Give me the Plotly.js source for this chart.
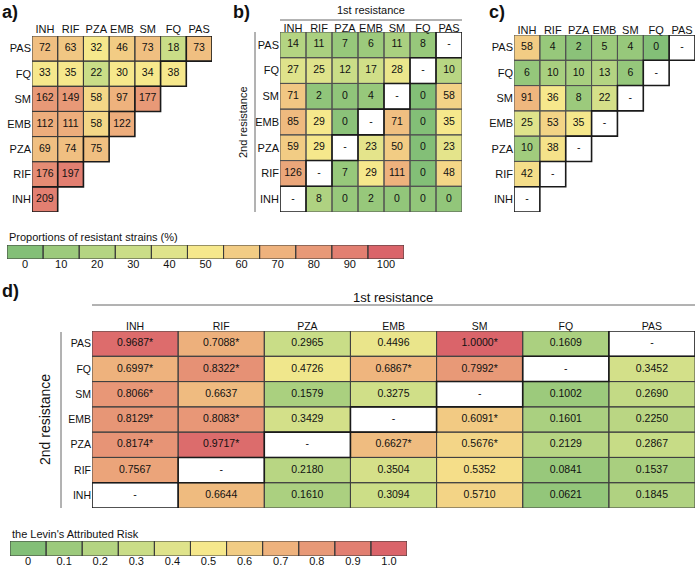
<!DOCTYPE html>
<html><head><meta charset="utf-8">
<script src="https://cdn.plot.ly/plotly-3.0.1.min.js"></script>
<style>body{margin:0;padding:0;background:#fff}#chart{width:696px;height:568px}</style>
</head><body><div id="chart"></div>
<script>
// ---------- DATA ----------
const drugs = ['INH','RIF','PZA','EMB','SM','FQ','PAS'];          // columns (1st resistance), bottom->top for rows
const rowsTopDown = ['PAS','FQ','SM','EMB','PZA','RIF','INH'];    // row order as printed (top to bottom)

// a) numbers of resistant strains (null = no cell)
const countsA = [
  [72, 63, 32, 46, 73, 18, 73],
  [33, 35, 22, 30, 34, 38, null],
  [162, 149, 58, 97, 177, null, null],
  [112, 111, 58, 122, null, null, null],
  [69, 74, 75, null, null, null, null],
  [176, 197, null, null, null, null, null],
  [209, null, null, null, null, null, null]
];
// a) proportion (%) shown by cell colour (read from picture)
const pctA = [
  [65, 62, 50, 60, 65, 30, 65],
  [50, 50, 30, 50, 50, 50, null],
  [80, 80, 56, 70, 80, null, null],
  [72, 72, 56, 72, null, null, null],
  [65, 65, 65, null, null, null, null],
  [85, 90, null, null, null, null, null],
  [90, null, null, null, null, null, null]
];

// b) counts, '-' = diagonal
const countsB = [
  [14, 11, 7, 6, 11, 8, '-'],
  [27, 25, 12, 17, 28, '-', 10],
  [71, 2, 0, 4, '-', 0, 58],
  [85, 29, 0, '-', 71, 0, 35],
  [59, 29, '-', 23, 50, 0, 23],
  [126, '-', 7, 29, 111, 0, 48],
  ['-', 8, 0, 2, 0, 0, 0]
];
const pctB = [
  [20, 16, 8, 10, 16, 8, null],
  [40, 40, 30, 33, 45, null, 22],
  [62, 5, 5, 8, null, 0, 58],
  [67, 50, 3, null, 65, 0, 50],
  [60, 50, null, 42, 60, 0, 42],
  [75, null, 8, 50, 70, 0, 56],
  [null, 18, 8, 8, 6, 6, 6]
];

// c) counts
const countsC = [
  [58, 4, 2, 5, 4, 0, '-'],
  [6, 10, 10, 13, 6, '-', null],
  [91, 36, 8, 22, '-', null, null],
  [25, 53, 35, '-', null, null, null],
  [10, 38, '-', null, null, null, null],
  [42, '-', null, null, null, null, null],
  ['-', null, null, null, null, null, null]
];
const pctC = [
  [60, 8, 3, 10, 8, 0, null],
  [7, 15, 15, 20, 7, null, null],
  [68, 50, 10, 35, null, null, null],
  [40, 57, 50, null, null, null, null],
  [12, 52, null, null, null, null, null],
  [54, null, null, null, null, null, null],
  [null, null, null, null, null, null, null]
];

// d) Levin's attributable risk (null = diagonal '-'), sig = asterisk
const larD = [
  [0.9687, 0.7088, 0.2965, 0.4496, 1.0000, 0.1609, null],
  [0.6997, 0.8322, 0.4726, 0.6867, 0.7992, null, 0.3452],
  [0.8066, 0.6637, 0.1579, 0.3275, null, 0.1002, 0.2690],
  [0.8129, 0.8083, 0.3429, null, 0.6091, 0.1601, 0.2250],
  [0.8174, 0.9717, null, 0.6627, 0.5676, 0.2129, 0.2867],
  [0.7567, null, 0.2180, 0.3504, 0.5352, 0.0841, 0.1537],
  [null, 0.6644, 0.1610, 0.3094, 0.5710, 0.0621, 0.1845]
];
const sigD = [
  [1, 1, 0, 0, 1, 0, 0],
  [1, 1, 0, 1, 1, 0, 0],
  [1, 0, 0, 0, 0, 0, 0],
  [1, 1, 0, 0, 1, 0, 0],
  [1, 1, 0, 1, 1, 0, 0],
  [0, 0, 0, 0, 0, 0, 0],
  [0, 0, 0, 0, 0, 0, 0]
];

// legends
const legTicksA = ['0','10','20','30','40','50','60','70','80','90','100'];
const legValsA = [0, 10, 20, 30, 40, 50, 60, 70, 80, 90, 100];
const legTicksD = ['0','0.1','0.2','0.3','0.4','0.5','0.6','0.7','0.8','0.9','1.0'];
const legValsD = [0, 0.1, 0.2, 0.3, 0.4, 0.5, 0.6, 0.7, 0.8, 0.9, 1.0];
const levelColors = ['#83bf77','#9cca7c','#b4d482','#cadd87','#dfe38b','#f6e88c','#f2cc84','#eeb27d','#e89977','#e27f71','#da646a'];

// ---------- LAYOUT HELPERS ----------
const W = 696, H = 568;
const px = v => v / W;
const py = v => 1 - v / H;
const FONT = 'Liberation Sans, Arial, Helvetica, sans-serif';
const colorscale = levelColors.map((c, i) => [i / 10, c]);

const traces = [];
const shapes = [];
const annotations = [];

function panel(ax, counts, zvals, zmax, textFn, opts) {
  const xa = 'x' + ax, ya = 'y' + ax;
  traces.push({
    type: 'heatmap', x: drugs, y: rowsTopDown, z: zvals,
    zmin: 0, zmax: zmax, colorscale: colorscale, showscale: false,
    xaxis: xa, yaxis: ya, hoverinfo: 'skip'
  });
  const tx = [], ty = [], tt = [];
  const thick = [];
  for (let r = 0; r < rowsTopDown.length; r++) {
    for (let c = 0; c < drugs.length; c++) {
      const v = counts[r][c];
      if (v === null || v === undefined) continue;
      const label = textFn(r, c, v);
      tx.push(drugs[c]); ty.push(rowsTopDown[r]); tt.push(label);
      const yi = drugs.indexOf(rowsTopDown[r]);
      const rect = {type: 'rect', xref: xa, yref: ya, x0: c - 0.5, x1: c + 0.5, y0: yi - 0.5, y1: yi + 0.5,
        line: {color: opts.gridColor, width: 1}, fillcolor: 'rgba(0,0,0,0)', layer: 'above'};
      const isDiag = drugs[c] === rowsTopDown[r];
      if (isDiag && opts.thickDiag) { rect.line = {color: '#1a1a1a', width: 1.6}; thick.push(rect); }
      else shapes.push(rect);
    }
  }
  thick.forEach(s => shapes.push(s));
  traces.push({
    type: 'scatter', mode: 'text', x: tx, y: ty, text: tt, xaxis: xa, yaxis: ya,
    textfont: {family: FONT, size: opts.textSize, color: '#111'}, hoverinfo: 'skip', showlegend: false, cliponaxis: false
  });
}

panel('', countsA, pctA, 100, (r, c, v) => String(v), {gridColor: '#3a3a3a', thickDiag: true, textSize: 10.5});
panel('2', countsB, pctB, 100, (r, c, v) => String(v), {gridColor: '#505050', thickDiag: true, textSize: 10.5});
panel('3', countsC, pctC, 100, (r, c, v) => String(v), {gridColor: '#505050', thickDiag: true, textSize: 10.5});
const countsDtext = larD.map(row => row.map(v => v === null ? '-' : v));
panel('4', countsDtext, larD, 1, (r, c, v) => v === '-' ? '-' : v.toFixed(4) + (sigD[r][c] ? '*' : ''),
  {gridColor: '#404040', thickDiag: true, textSize: 10.5});

// legend bars
function legendBar(ax, ticks, vals, zmax) {
  const xa = 'x' + ax, ya = 'y' + ax;
  traces.push({type: 'heatmap', x: ticks, y: [0], z: [vals], zmin: 0, zmax: zmax, colorscale: colorscale,
    showscale: false, xaxis: xa, yaxis: ya, hoverinfo: 'skip'});
  for (let i = 0; i < ticks.length; i++) {
    shapes.push({type: 'rect', xref: xa, yref: ya, x0: i - 0.5, x1: i + 0.5, y0: -0.5, y1: 0.5,
      line: {color: '#3a3a3a', width: 1}, layer: 'above'});
  }
}
legendBar('5', legTicksA, legValsA, 100);
legendBar('6', legTicksD, legValsD, 1);

function catX(domain, anchor, side, cats, size, standoff) {
  return {domain: domain, anchor: anchor, side: side, type: 'category', categoryorder: 'array', categoryarray: cats,
    range: [-0.5, cats.length - 0.5], showgrid: false, zeroline: false, showline: false, ticks: '',
    tickfont: {family: FONT, size: size, color: '#111'}, fixedrange: true, ticklabelstandoff: standoff};
}
function catY(domain, anchor, cats, size) {
  return {domain: domain, anchor: anchor, type: 'category', categoryorder: 'array', categoryarray: cats,
    range: [-0.5, cats.length - 0.5], showgrid: false, zeroline: false, showline: false, ticks: '',
    tickfont: {family: FONT, size: size, color: '#111'}, fixedrange: true, ticklabelstandoff: 0};
}
function legY(domain, anchor) {
  return {domain: domain, anchor: anchor, type: 'linear', range: [-0.5, 0.5], showticklabels: false, ticks: '',
    showgrid: false, zeroline: false, showline: false, fixedrange: true};
}

const layout = {
  width: W, height: H, margin: {l: 0, r: 0, t: 0, b: 0}, autosize: false,
  paper_bgcolor: '#fff', plot_bgcolor: 'rgba(0,0,0,0)', showlegend: false,
  font: {family: FONT, color: '#111'},
  xaxis: catX([px(32), px(212)], 'y', 'top', drugs, 11, -2.5),
  yaxis: catY([py(212), py(36)], 'x', drugs, 11),
  xaxis2: catX([px(280), px(462)], 'y2', 'top', drugs, 11, -3),
  yaxis2: catY([py(212), py(32)], 'x2', drugs, 11),
  xaxis3: catX([px(514), px(695)], 'y3', 'top', drugs, 11, -2),
  yaxis3: catY([py(212), py(35)], 'x3', drugs, 11),
  xaxis4: catX([px(92), px(695)], 'y4', 'top', drugs, 10.5, -2),
  yaxis4: catY([py(508), py(331)], 'x4', drugs, 10.5),
  xaxis5: catX([px(7), px(404)], 'y5', 'bottom', legTicksA, 11, -3),
  yaxis5: legY([py(259), py(245)], 'x5'),
  xaxis6: catX([px(10), px(407)], 'y6', 'bottom', legTicksD, 11, -3),
  yaxis6: legY([py(556), py(541)], 'x6'),
  shapes: shapes,
  annotations: annotations
};

// decorative lines
shapes.push({type: 'line', xref: 'paper', yref: 'paper', x0: px(280), x1: px(462), y0: py(20), y1: py(20), line: {color: '#666', width: 1}});
shapes.push({type: 'line', xref: 'paper', yref: 'paper', x0: px(255), x1: px(255), y0: py(32), y1: py(212), line: {color: '#666', width: 1}});
shapes.push({type: 'line', xref: 'paper', yref: 'paper', x0: px(92), x1: px(695), y0: py(305), y1: py(305), line: {color: '#666', width: 1}});
shapes.push({type: 'line', xref: 'paper', yref: 'paper', x0: px(61), x1: px(61), y0: py(332), y1: py(508), line: {color: '#666', width: 1}});

function ann(text, x, y, o) {
  annotations.push(Object.assign({text: text, x: px(x), y: py(y), xref: 'paper', yref: 'paper', showarrow: false,
    xanchor: 'center', yanchor: 'middle', font: {family: FONT, size: 11, color: '#111'}}, o || {}));
}
ann('<b>a)</b>', 0, 12, {xanchor: 'left', font: {family: FONT, size: 18, color: '#111'}});
ann('<b>b)</b>', 231, 12, {xanchor: 'left', font: {family: FONT, size: 18, color: '#111'}});
ann('<b>c)</b>', 487, 12, {xanchor: 'left', font: {family: FONT, size: 18, color: '#111'}});
ann('<b>d)</b>', 0, 291, {xanchor: 'left', font: {family: FONT, size: 18, color: '#111'}});
ann('1st resistance', 371, 10, {font: {family: FONT, size: 11, color: '#111'}});
ann('2nd resistance', 243, 122, {textangle: -90, font: {family: FONT, size: 11, color: '#111'}});
ann('1st resistance', 393, 297, {font: {family: FONT, size: 13, color: '#111'}});
ann('2nd resistance', 45, 420, {textangle: -90, font: {family: FONT, size: 14, color: '#111'}});
ann('Proportions of resistant strains (%)', 7, 237, {xanchor: 'left', font: {family: FONT, size: 11, color: '#111'}});
ann("the Levin's Attributed Risk", 10, 534, {xanchor: 'left', font: {family: FONT, size: 11, color: '#111'}});

Plotly.newPlot('chart', traces, layout, {staticPlot: true, displayModeBar: false});
</script></body></html>
